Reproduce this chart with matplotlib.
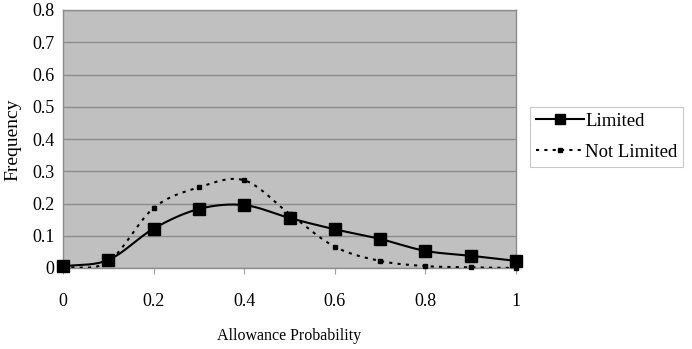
import numpy as np
import matplotlib
matplotlib.use("Agg")
import matplotlib.pyplot as plt
from matplotlib.lines import Line2D

x_vals = [0, 0.1, 0.2, 0.3, 0.4, 0.5, 0.6, 0.7, 0.8, 0.9, 1.0]
limited = [0.005, 0.025, 0.122, 0.183, 0.195, 0.155, 0.12, 0.09, 0.053, 0.038, 0.022]
not_limited = [0.0, 0.02, 0.186, 0.25, 0.272, 0.168, 0.066, 0.022, 0.006, 0.002, 0.0]
x_ticks = [0, 0.2, 0.4, 0.6, 0.8, 1]
x_tick_labels = ["0", "0.2", "0.4", "0.6", "0.8", "1"]
y_ticks = [0, 0.1, 0.2, 0.3, 0.4, 0.5, 0.6, 0.7, 0.8]
y_tick_labels = ["0", "0.1", "0.2", "0.3", "0.4", "0.5", "0.6", "0.7", "0.8"]


def smooth(xs, ys, n=30):
    # Catmull-Rom style smoothing (like Excel smoothed lines)
    xs = np.asarray(xs, float)
    ys = np.asarray(ys, float)
    P = np.column_stack([xs, ys])
    P = np.vstack([2 * P[0] - P[1], P, 2 * P[-1] - P[-2]])
    out = []
    for i in range(1, len(P) - 2):
        p0, p1, p2, p3 = P[i - 1], P[i], P[i + 1], P[i + 2]
        t = np.linspace(0, 1, n, endpoint=False)[:, None]
        c = 0.5 * ((2 * p1) + (-p0 + p2) * t + (2 * p0 - 5 * p1 + 4 * p2 - p3) * t ** 2
                   + (-p0 + 3 * p1 - 3 * p2 + p3) * t ** 3)
        out.append(c)
    out.append(P[-2][None, :])
    out = np.vstack(out)
    return out[:, 0], out[:, 1]


plt.rcParams['font.family'] = ['Liberation Serif', 'DejaVu Serif']

fig = plt.figure(figsize=(6.92, 3.49), dpi=100)
ax = fig.add_axes([63 / 692, 1 - 268 / 349, (516 - 63) / 692, (268 - 10) / 349])
ax.set_facecolor('#C0C0C0')

sx, sy = smooth(x_vals, not_limited)
ax.plot(sx, sy, color='black', linestyle=(0, (1.5, 2.5)), linewidth=1.5, zorder=3)
ax.plot(x_vals, not_limited, linestyle='none', marker='s', markersize=3.2,
        color='black', zorder=4, clip_on=False)
sx, sy = smooth(x_vals, limited)
ax.plot(sx, sy, color='black', linewidth=1.5, zorder=5)
ax.plot(x_vals, limited, linestyle='none', marker='s', markersize=8.5,
        color='black', zorder=6, clip_on=False)

# legend proxies
h1 = Line2D([], [], color='black', linewidth=1.5, marker='s', markersize=7)
h2 = Line2D([], [], color='black', linewidth=1.5, linestyle=(0, (1.5, 2.5)), marker='s', markersize=3)
leg = fig.legend([h1, h2], ["Limited", "Not Limited"], loc='upper left',
                 bbox_to_anchor=(530 / 692, 1 - 107 / 349), fontsize=13.5,
                 frameon=True, fancybox=False, edgecolor='#BBBBBB',
                 handlelength=2.6, handletextpad=0.05, borderpad=0.3,
                 labelspacing=0.75, borderaxespad=0)
leg.get_frame().set_linewidth(0.8)

ax.set_xlim(0, 1)
ax.set_ylim(0, 0.8)
ax.set_xticks(x_ticks)
ax.set_xticklabels(x_tick_labels, fontsize=13)
ax.set_yticks(y_ticks)
ax.set_yticklabels(y_tick_labels, fontsize=13)
ax.yaxis.grid(True, color='#8C8C8C', linewidth=1)
ax.set_axisbelow(True)
ax.tick_params(axis='y', length=0, pad=6)
ax.tick_params(axis='x', length=4, direction='out', color='#A0A0A0', pad=14)
for s in ['top', 'right', 'left', 'bottom']:
    ax.spines[s].set_color('#8C8C8C')
    ax.spines[s].set_linewidth(1)

fig.text(289 / 692, 1 - 336 / 349, "Allowance Probability", ha='center', va='center', fontsize=11.5)
fig.text(13 / 692, 1 - 140 / 349, "Frequency", ha='center', va='center', rotation=90, fontsize=14)

fig.savefig("out.png", dpi=100)
